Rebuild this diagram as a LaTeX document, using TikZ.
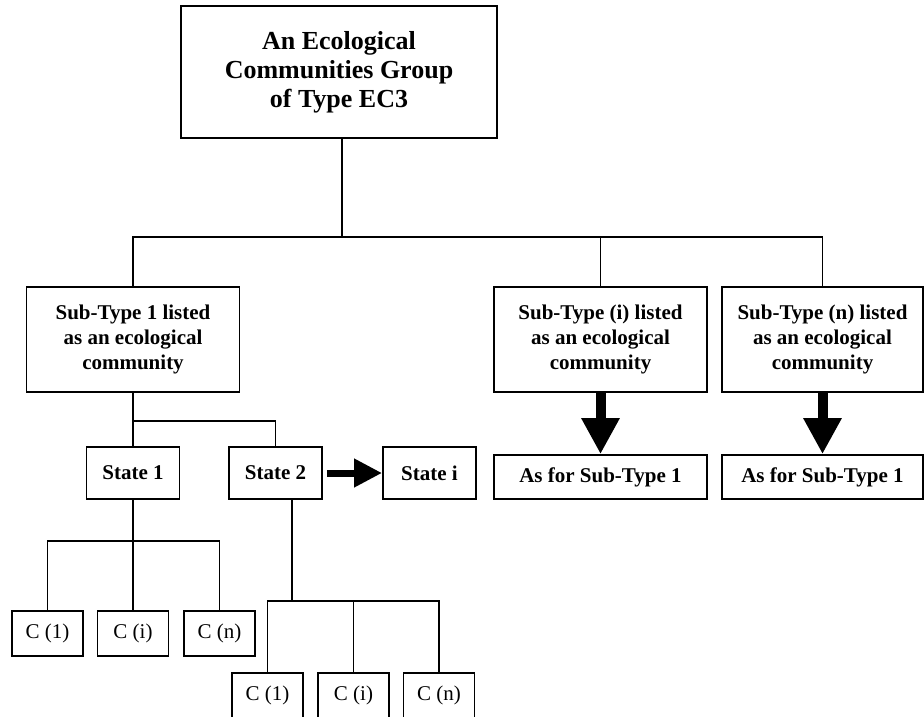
\documentclass[tikz,border=0pt]{standalone}
\usepackage{fontspec}
\setmainfont{Liberation Serif}
\usetikzlibrary{arrows.meta}
\tikzstyle{groupbox} = [draw,line width=1.8pt,align=center,inner sep=0pt]
\tikzstyle{typebox} = [groupbox,minimum height=105pt,font=\fontsize{21}{25}\selectfont\bfseries]
\tikzstyle{statebox} = [groupbox,minimum width=93pt,minimum height=52pt,font=\fontsize{21}{25}\selectfont\bfseries]
\tikzstyle{cbox} = [groupbox,minimum width=71pt,minimum height=45pt,font=\fontsize{21}{25}\selectfont]
\tikzstyle{link} = [line width=1.6pt]
\tikzstyle{bigarrow} = [line width=10pt,-{Triangle[length=36pt,width=36pt]}]
\tikzstyle{statearrow} = [line width=7pt,-{Triangle[length=28pt,width=27pt]}]

\begin{document}
\begin{tikzpicture}[x=1pt,y=-1pt]
		\useasboundingbox (0,0) rectangle (924,716);
		% el grupo
		\node[groupbox,minimum width=316pt,minimum height=132pt,
			font=\fontsize{26}{29}\selectfont\bfseries] (grupo) at (339,72)
			{An Ecological\\Communities Group\\of Type EC3};
		% los sub-tipos
		\node[typebox,minimum width=213pt] (sub1) at (133,339.5)
			{Sub-Type 1 listed\\as an ecological\\community};
		\node[typebox,minimum width=213pt] (subi) at (600.5,339.5)
			{Sub-Type (i) listed\\as an ecological\\community};
		\node[typebox,minimum width=201pt] (subn) at (822.5,339.5)
			{Sub-Type (n) listed\\as an ecological\\community};
		\node[statebox,minimum width=213pt,minimum height=44pt] (asi) at (600.5,477) {As for Sub-Type 1};
		\node[statebox,minimum width=201pt,minimum height=44pt] (asn) at (822.5,477) {As for Sub-Type 1};
		% los estados
		\node[statebox] (st1) at (133,473) {State 1};
		\node[statebox] (st2) at (275.5,473) {State 2};
		\node[statebox] (sti) at (429.5,473) {State i};
		% las comunidades
		\foreach \Xc/\Texto/\Nombre in 
		{47.5/C (1)/a,133/C (i)/b,219.5/C (n)/c}
		{
			\node[cbox] (cuno\Nombre) at (\Xc,633.5) {\Texto};
		}
		\foreach \Xc/\Texto/\Nombre in 
		{267.5/C (1)/a,353.5/C (i)/b,439/C (n)/c}
		{
			\node[cbox] (cdos\Nombre) at (\Xc,695.5) {\Texto};
		}
		% las lineas
		\coordinate (bus1) at (342,237);
		\coordinate (bus2) at (133,421);
		\coordinate (bus3) at (133,541);
		\coordinate (bus4) at (292,601);
		\draw[link] (grupo.south -| bus1) -- (bus1);
		\draw[link] (sub1.north) |- (bus1) -| (subn.north);
		\draw[link] (bus1 -| subi.north) -- (subi.north);
		\draw[link] (sub1.south) -- (st1.north);
		\draw[link] (bus2) -| (st2.north);
		\draw[link] (st1.south) -- (cunob.north);
		\draw[link] (cunoa.north) |- (bus3) -| (cunoc.north);
		\draw[link] (bus4 |- st2.south) -- (bus4);
		\draw[link] (cdosa.north) |- (bus4) -| (cdosc.north);
		\draw[link] (bus4 -| cdosb.north) -- (cdosb.north);
		% las flechas
		\draw[bigarrow] (subi.south) -- (asi.north);
		\draw[bigarrow] (subn.south) -- (asn.north);
		\draw[statearrow,shorten <=4pt] (st2.east) -- (sti.west);
\end{tikzpicture}
\end{document}
